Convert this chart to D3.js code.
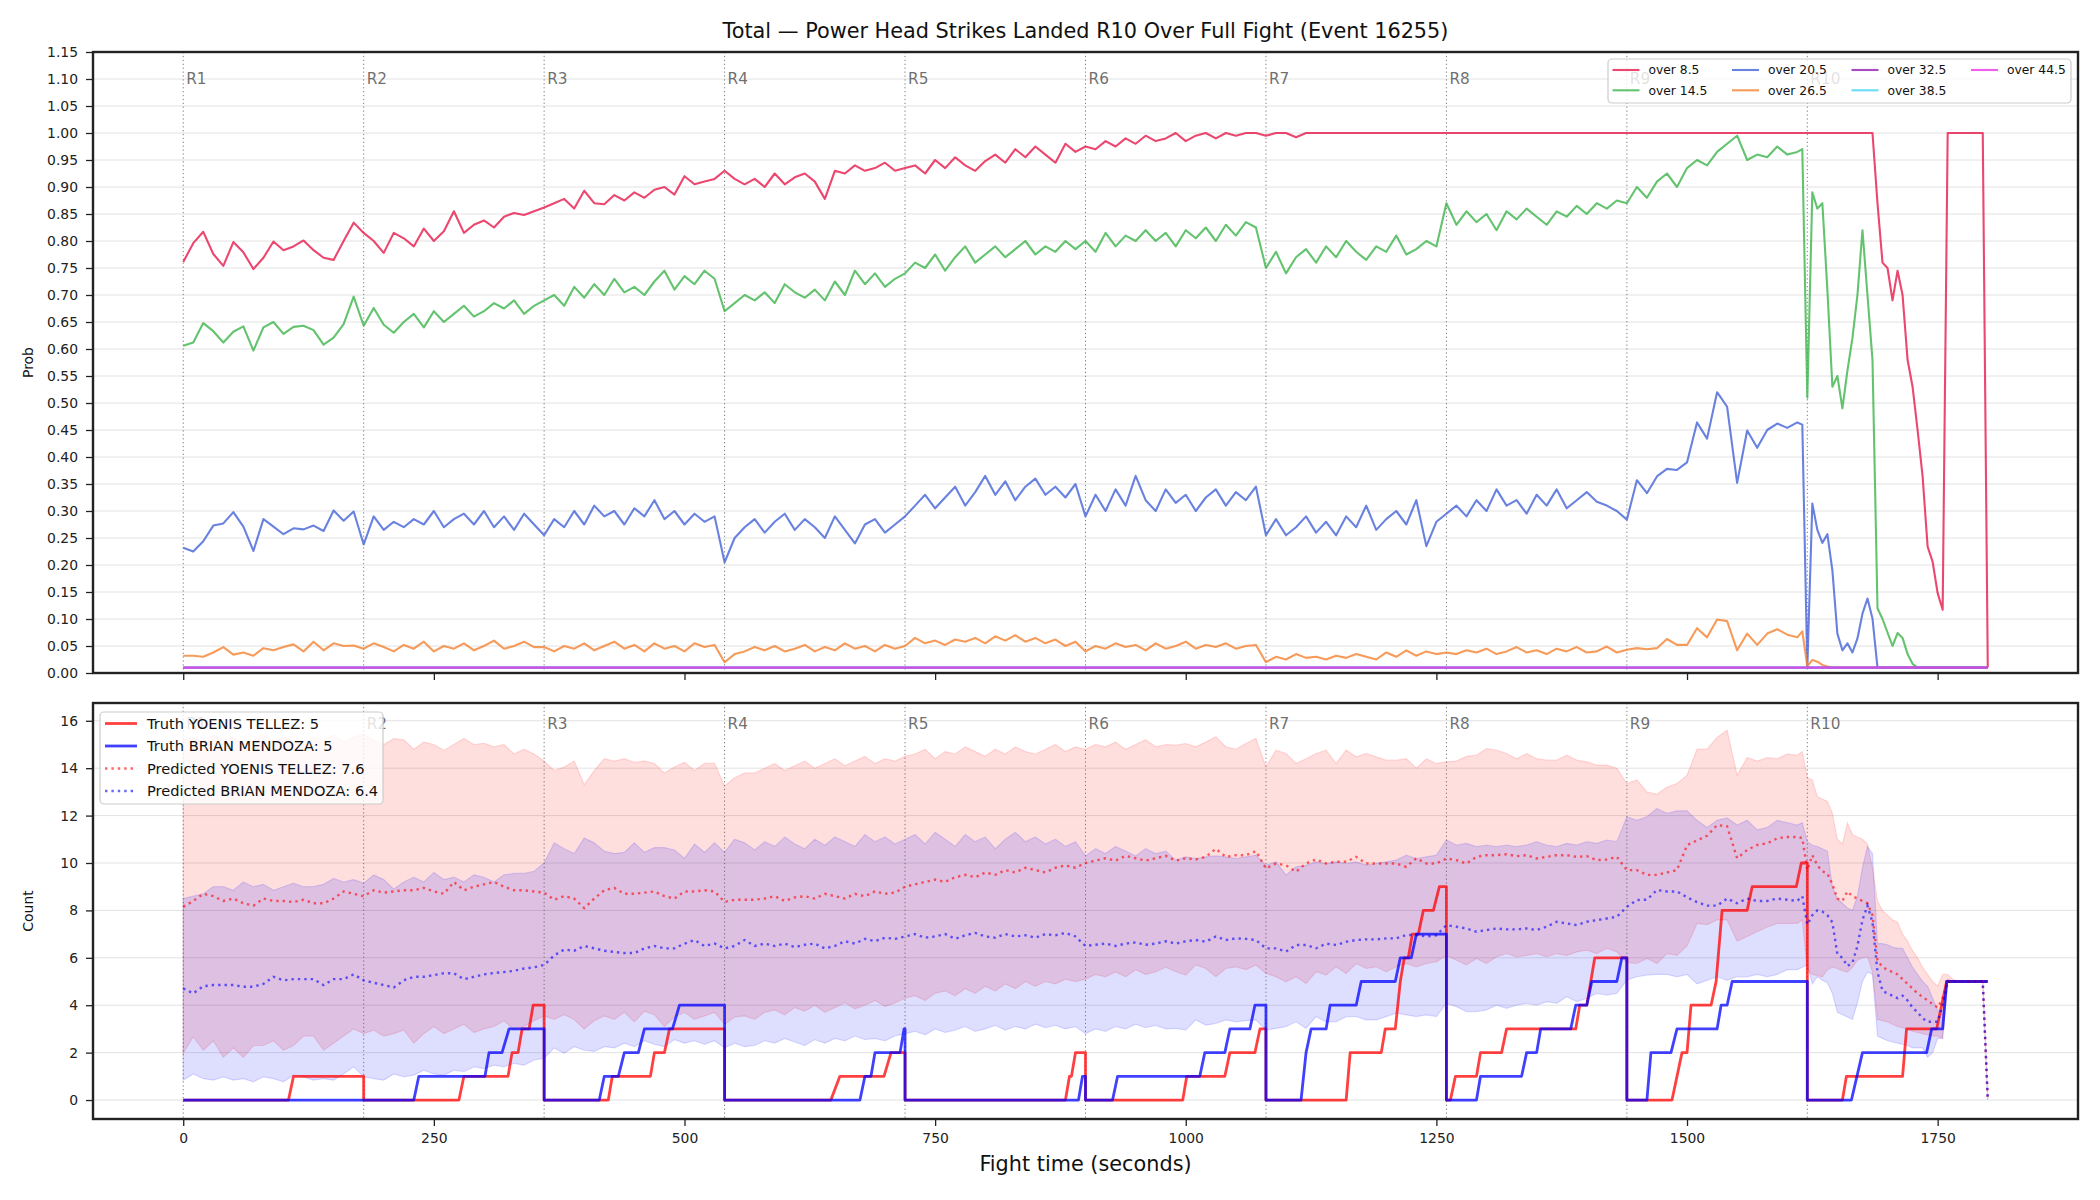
<!DOCTYPE html>
<html><head><meta charset="utf-8">
<script src="https://cdn.jsdelivr.net/npm/d3@7"></script>
<style>
body{margin:0;background:#fff;}
svg{display:block;}
text{font-family:"DejaVu Sans",sans-serif;}
</style>
</head><body>
<svg id="c" width="2100" height="1200"></svg>
<script>
// ---------------- DATA ----------------
const title = "Total \u2014 Power Head Strikes Landed R10 Over Full Fight (Event 16255)";
const roundStarts = [0,180,360,540,720,900,1080,1260,1440,1620];
const roundLabels = ["R1","R2","R3","R4","R5","R6","R7","R8","R9","R10"];
const xTicks = [0,250,500,750,1000,1250,1500,1750];
const topTicks = [0,0.05,0.1,0.15,0.2,0.25,0.3,0.35,0.4,0.45,0.5,0.55,0.6,0.65,0.7,0.75,0.8,0.85,0.9,0.95,1.0,1.05,1.1,1.15];
const botTicks = [0,2,4,6,8,10,12,14,16];

// sample times (s)
const T = [
0,10,20,30,40,50,60,70,80,90,100,110,120,130,140,150,160,170,
180,190,200,210,220,230,240,250,260,270,280,290,300,310,320,330,340,350,
360,370,380,390,400,410,420,430,440,450,460,470,480,490,500,510,520,530,
540,550,560,570,580,590,600,610,620,630,640,650,660,670,680,690,700,710,
720,730,740,750,760,770,780,790,800,810,820,830,840,850,860,870,880,890,
900,910,920,930,940,950,960,970,980,990,1000,1010,1020,1030,1040,1050,1060,1070,
1080,1090,1100,1110,1120,1130,1140,1150,1160,1170,1180,1190,1200,1210,1220,1230,1240,1250,
1260,1270,1280,1290,1300,1310,1320,1330,1340,1350,1360,1370,1380,1390,1400,1410,1420,1430,
1440,1450,1460,1470,1480,1490,1500,1510,1520,1530,1540,1550,1560,1570,1580,1590,1600,1610,1615,
1620,1625,1630,1635,1640,1645,1650,1655,1660,1665,1670,1675,1680,1685,1690,1695,1700,1705,1710,1715,
1720,1725,1730,1735,1740,1745,1750,1755,1760,1765,1770,1775,1780,1785,1790,1795,1800];

// top panel: probability of "over" lines
const over85 = [
0.761,0.796,0.817,0.776,0.754,0.798,0.779,0.748,0.769,0.799,0.783,0.790,0.801,0.783,0.769,0.765,0.800,0.834,
0.815,0.800,0.778,0.815,0.805,0.790,0.823,0.800,0.818,0.855,0.815,0.830,0.838,0.825,0.845,0.852,0.848,0.855,
0.862,0.870,0.878,0.860,0.893,0.870,0.868,0.885,0.875,0.890,0.880,0.895,0.900,0.886,0.920,0.905,0.910,0.915,
0.930,0.915,0.905,0.915,0.900,0.925,0.905,0.918,0.925,0.910,0.878,0.930,0.925,0.940,0.930,0.935,0.945,0.930,
0.935,0.940,0.925,0.950,0.935,0.955,0.940,0.930,0.948,0.960,0.945,0.970,0.955,0.975,0.960,0.945,0.980,0.965,
0.975,0.970,0.985,0.975,0.990,0.980,0.995,0.985,0.990,1.000,0.985,0.995,1.000,0.990,1.000,0.995,1.000,1.000,
0.995,1,1,0.992,1,1,1,1,1,1,1,1,1,1,1,1,1,1,
1,1,1,1,1,1,1,1,1,1,1,1,1,1,1,1,1,1,
1,1,1,1,1,1,1,1,1,1,1,1,1,1,1,1,1,1,1,
1,1,1,1,1,1,1,1,1,1,1,1,1,1,0.87,0.76,0.75,0.69,0.745,0.70,
0.58,0.53,0.45,0.364,0.234,0.206,0.148,0.117,1,1,1,1,1,1,1,1,0.01];
const over145 = [
0.606,0.612,0.648,0.633,0.612,0.632,0.642,0.597,0.640,0.650,0.628,0.641,0.643,0.635,0.608,0.621,0.646,0.697,
0.643,0.676,0.645,0.630,0.650,0.665,0.640,0.670,0.650,0.665,0.680,0.660,0.670,0.685,0.675,0.690,0.665,0.680,
0.690,0.700,0.680,0.715,0.695,0.720,0.700,0.730,0.705,0.715,0.700,0.725,0.745,0.710,0.735,0.720,0.745,0.730,
0.670,0.685,0.700,0.690,0.705,0.685,0.720,0.705,0.695,0.710,0.690,0.725,0.700,0.745,0.720,0.740,0.715,0.730,
0.740,0.760,0.750,0.775,0.745,0.770,0.790,0.760,0.775,0.790,0.770,0.785,0.800,0.775,0.790,0.780,0.800,0.785,
0.800,0.780,0.815,0.790,0.810,0.800,0.820,0.800,0.815,0.790,0.820,0.805,0.825,0.800,0.830,0.810,0.835,0.825,
0.750,0.780,0.740,0.770,0.785,0.760,0.790,0.770,0.800,0.780,0.765,0.790,0.780,0.810,0.775,0.785,0.800,0.790,
0.870,0.830,0.855,0.835,0.850,0.820,0.855,0.840,0.860,0.845,0.830,0.855,0.845,0.865,0.850,0.870,0.860,0.875,
0.870,0.900,0.880,0.910,0.925,0.900,0.935,0.950,0.940,0.965,0.980,0.995,0.950,0.960,0.955,0.975,0.960,0.965,0.970,
0.51,0.89,0.86,0.87,0.71,0.53,0.55,0.49,0.56,0.62,0.70,0.82,0.70,0.58,0.12,0.10,0.075,0.05,0.074,0.065,
0.035,0.017,0.01,0.01,0.01,0.01,0.01,0.01,0.01,0.01,0.01,0.01,0.01,0.01,0.01,0.01,0.01];
const over205 = [
0.232,0.225,0.244,0.273,0.277,0.298,0.271,0.226,0.285,0.271,0.257,0.268,0.266,0.273,0.263,0.301,0.282,0.299,
0.238,0.290,0.265,0.280,0.270,0.285,0.275,0.300,0.270,0.285,0.295,0.275,0.300,0.270,0.290,0.265,0.295,0.275,
0.255,0.285,0.270,0.300,0.275,0.310,0.290,0.300,0.275,0.305,0.290,0.320,0.285,0.300,0.275,0.295,0.280,0.290,
0.205,0.250,0.270,0.285,0.260,0.280,0.295,0.265,0.285,0.270,0.250,0.290,0.265,0.240,0.275,0.285,0.260,0.275,
0.290,0.310,0.330,0.305,0.325,0.345,0.310,0.335,0.365,0.330,0.355,0.320,0.345,0.360,0.330,0.345,0.325,0.350,
0.290,0.330,0.300,0.340,0.310,0.365,0.320,0.300,0.340,0.315,0.330,0.300,0.325,0.340,0.310,0.335,0.320,0.345,
0.255,0.285,0.255,0.270,0.290,0.260,0.280,0.255,0.290,0.270,0.310,0.265,0.285,0.300,0.275,0.320,0.235,0.280,
0.295,0.310,0.290,0.320,0.300,0.340,0.310,0.320,0.295,0.330,0.310,0.340,0.305,0.320,0.335,0.317,0.310,0.300,
0.284,0.357,0.333,0.364,0.378,0.376,0.390,0.464,0.434,0.520,0.493,0.352,0.449,0.417,0.450,0.462,0.454,0.464,0.460,
0.01,0.314,0.265,0.241,0.257,0.19,0.073,0.042,0.055,0.038,0.064,0.11,0.138,0.101,0.01,0.01,0.01,0.01,0.01,0.01,
0.01,0.01,0.01,0.01,0.01,0.01,0.01,0.01,0.01,0.01,0.01,0.01,0.01,0.01,0.01,0.01,0.01];
const over265 = [
0.032,0.032,0.030,0.038,0.048,0.034,0.038,0.032,0.046,0.042,0.048,0.053,0.040,0.058,0.042,0.055,0.050,0.051,
0.045,0.055,0.048,0.040,0.052,0.045,0.058,0.040,0.050,0.045,0.055,0.042,0.050,0.060,0.045,0.050,0.058,0.048,
0.048,0.040,0.050,0.045,0.055,0.042,0.050,0.058,0.045,0.052,0.040,0.055,0.045,0.050,0.040,0.055,0.048,0.052,
0.020,0.035,0.040,0.048,0.042,0.050,0.040,0.045,0.052,0.040,0.048,0.042,0.055,0.045,0.050,0.040,0.052,0.045,
0.050,0.065,0.055,0.060,0.052,0.062,0.058,0.065,0.055,0.068,0.060,0.070,0.058,0.065,0.055,0.062,0.050,0.058,
0.040,0.050,0.045,0.055,0.048,0.052,0.042,0.055,0.045,0.050,0.058,0.045,0.052,0.048,0.055,0.045,0.050,0.052,
0.020,0.030,0.025,0.035,0.028,0.030,0.025,0.032,0.028,0.035,0.030,0.025,0.038,0.030,0.042,0.032,0.040,0.035,
0.038,0.035,0.042,0.038,0.045,0.035,0.040,0.048,0.038,0.042,0.035,0.045,0.040,0.048,0.038,0.040,0.049,0.038,
0.043,0.046,0.044,0.046,0.063,0.052,0.052,0.083,0.066,0.099,0.096,0.042,0.073,0.052,0.073,0.081,0.071,0.066,0.077,
0.013,0.024,0.021,0.015,0.012,0.01,0.01,0.01,0.01,0.01,0.01,0.01,0.01,0.01,0.01,0.01,0.01,0.01,0.01,0.01,
0.01,0.01,0.01,0.01,0.01,0.01,0.01,0.01,0.01,0.01,0.01,0.01,0.01,0.01,0.01,0.01,0.01];
// flat lines (time, value)
const flatT = [0,1800];
const over325 = [0.01,0.01];
const over385 = [0.01,0.01];
const over445 = [0.01,0.01];

const topNames  = ["over 8.5","over 14.5","over 20.5","over 26.5","over 32.5","over 38.5","over 44.5"];
const topColors = ["#e6194b","#3cb44b","#4363d8","#f58231","#911eb4","#42d4f4","#f032e6"];

// bottom panel: predicted counts and bands
const predRed = [
8.15,8.4,8.7,8.6,8.4,8.5,8.3,8.2,8.5,8.4,8.4,8.35,8.45,8.3,8.3,8.5,8.8,8.7,
8.6,8.85,8.75,8.8,8.85,8.85,8.95,8.8,8.7,9.2,8.85,9.0,9.1,9.2,9.0,8.85,8.85,8.8,
8.75,8.45,8.6,8.5,8.1,8.5,8.85,8.95,8.7,8.7,8.75,8.8,8.6,8.5,8.8,8.8,8.85,8.8,
8.36,8.45,8.45,8.45,8.5,8.6,8.4,8.55,8.6,8.5,8.7,8.6,8.5,8.7,8.6,8.8,8.7,8.75,
9.0,9.1,9.2,9.3,9.2,9.4,9.5,9.4,9.6,9.5,9.7,9.6,9.8,9.7,9.6,9.8,9.9,9.8,
10.0,10.1,10.2,10.1,10.3,10.2,10.1,10.2,10.3,10.1,10.2,10.15,10.26,10.6,10.26,10.33,10.33,10.5,
9.77,9.98,9.9,9.63,9.98,10.15,9.98,10.05,10.05,10.26,9.98,9.98,9.98,9.98,9.84,10.2,9.98,9.98,
10.19,10.12,9.98,10.26,10.33,10.33,10.37,10.29,10.33,10.19,10.26,10.33,10.33,10.26,10.29,10.12,10.15,10.26,
9.7,9.7,9.5,9.5,9.6,9.7,10.75,10.95,11.15,11.6,11.55,10.2,10.55,10.76,10.83,11.04,11.1,11.1,11.05,
9.7,10.33,9.9,9.65,9.56,9.1,8.5,8.4,8.8,8.6,8.5,8.4,8.3,7.8,5.9,5.6,5.5,5.4,5.3,5.1,
4.9,4.7,4.5,4.35,4.2,4.05,3.9,4.3,5.0,5.0,5.0,5.0,5.0,5.0,5.0,5.0,0];
const predBlue = [
4.71,4.5,4.8,4.85,4.85,4.85,4.78,4.78,4.9,5.2,5.05,5.1,5.1,5.1,4.85,5.1,5.1,5.3,
5.05,4.95,4.85,4.75,5.05,5.2,5.2,5.27,5.35,5.35,5.1,5.2,5.3,5.36,5.4,5.45,5.55,5.6,
5.7,6.1,6.35,6.3,6.5,6.4,6.3,6.25,6.2,6.2,6.4,6.5,6.4,6.4,6.6,6.75,6.5,6.6,
6.4,6.5,6.75,6.5,6.6,6.5,6.6,6.45,6.55,6.6,6.4,6.5,6.7,6.6,6.8,6.7,6.85,6.8,
6.9,7.0,6.85,6.9,7.0,6.8,6.95,7.05,6.9,6.85,7.0,6.9,6.95,6.85,7.0,6.95,7.05,6.9,
6.5,6.55,6.6,6.5,6.6,6.65,6.55,6.6,6.7,6.6,6.7,6.75,6.68,6.9,6.75,6.82,6.8,6.75,
6.4,6.4,6.26,6.54,6.54,6.4,6.6,6.54,6.68,6.75,6.78,6.78,6.82,6.82,6.96,6.96,6.9,6.95,
7.38,7.31,7.24,7.1,7.17,7.24,7.2,7.2,7.24,7.17,7.31,7.52,7.45,7.38,7.52,7.59,7.66,7.73,
8.15,8.44,8.45,8.86,8.8,8.8,8.55,8.35,8.2,8.2,8.5,8.3,8.5,8.4,8.4,8.5,8.45,8.4,8.6,
7.4,7.8,8.0,7.95,7.8,7.5,6.15,6.0,5.65,5.8,6.5,7.6,8.2,7.5,5.4,4.6,4.5,4.4,4.3,4.4,
4.2,3.9,3.7,3.45,3.3,3.3,3.3,4.0,5.0,5,5,5,5,5,5,5,0];
const redHi = [
15.2,15.3,15.1,15.4,15.2,15.3,15.0,15.2,15.4,15.1,15.3,15.2,15.0,15.3,15.2,15.4,15.1,15.3,
15.45,15.2,15.0,15.25,15.2,14.8,15.1,15.0,14.76,15.0,15.25,15.0,15.05,14.9,15.0,14.6,14.8,14.6,
14.3,13.9,14.05,14.3,13.3,13.9,14.4,14.3,14.4,14.25,14.3,14.2,13.8,14.05,14.25,13.9,14.2,14.2,
13.25,13.6,13.8,13.8,14.0,14.2,13.9,14.1,14.3,14.0,14.2,14.4,14.1,14.3,14.5,14.2,14.4,14.3,
14.5,14.6,14.8,14.4,14.7,14.6,14.9,14.7,14.5,14.8,14.6,14.9,14.7,14.6,14.8,15.0,14.7,14.9,
14.8,15.0,14.9,15.1,14.8,15.0,15.2,14.9,15.0,14.97,15.04,14.9,15.1,15.33,14.9,14.8,15.04,15.26,
14.06,14.76,14.62,14.2,14.4,14.62,14.76,14.2,14.76,14.48,14.62,14.48,14.34,14.34,14.4,14.0,14.4,14.2,
14.27,14.3,14.5,14.55,14.83,14.76,14.62,14.4,14.62,14.4,14.34,14.34,14.55,14.34,14.27,14.13,14.13,14.0,
13.35,13.5,13.0,12.9,13.2,13.35,13.7,14.8,14.8,15.3,15.6,13.7,14.45,14.3,14.45,14.4,14.6,14.55,14.7,
13.6,13.5,12.8,12.7,12.6,12.1,11.0,10.8,11.7,11.2,11.1,11.0,10.8,9.8,8.4,8.0,7.8,7.6,7.5,7.0,
6.7,6.3,6.0,5.6,5.3,5.0,4.8,5.3,5.3,5.1,5.0,5,5,5,5,5,0];
const redLo = [
1.97,2.67,2.1,2.5,1.8,2.2,1.8,2.3,2.3,2.5,2.1,2.3,2.7,2.7,2.1,2.4,2.7,3.0,
2.8,2.95,2.7,2.8,2.95,2.4,2.8,3.1,2.8,3.0,3.2,2.85,3.0,3.1,3.35,2.95,3.1,3.35,
3.55,3.4,3.6,3.4,3.0,3.35,3.55,3.4,3.7,3.3,3.75,3.6,3.1,3.5,3.7,3.4,3.55,3.7,
3.2,3.5,3.55,3.4,3.7,3.8,3.6,3.9,3.75,4.0,3.7,3.9,4.1,3.85,4.0,4.2,3.95,4.1,
4.3,4.4,4.2,4.5,4.6,4.4,4.7,4.5,4.8,4.6,4.9,4.7,5.0,4.8,5.0,4.9,5.1,5.0,
5.1,5.3,5.2,5.4,5.2,5.5,5.3,5.4,5.6,5.41,5.27,5.7,5.55,5.2,5.55,5.62,5.5,5.7,
5.34,5.2,4.99,5.2,4.92,5.41,5.27,5.62,5.34,5.76,5.55,5.62,5.41,5.62,5.76,5.62,5.76,5.83,
6.1,5.9,5.7,5.97,5.76,6.04,6.18,6.04,6.1,6.18,6.04,6.18,6.1,6.25,6.32,6.18,6.4,6.25,
5.8,5.76,5.97,5.76,6.18,6.1,6.5,7.45,7.4,7.6,7.6,6.7,6.9,7.1,7.3,7.45,7.45,7.45,7.6,
5.5,5.3,5.25,5.2,5.5,5.6,5.55,5.45,5.4,5.6,5.9,6.0,6.05,5.4,3.4,3.35,3.3,3.2,3.1,3.05,
3.0,2.9,2.85,2.8,2.75,2.7,2.7,2.6,5.0,5,5,5,5,5,5,5,0];
const blueHi = [
8.5,8.6,8.7,9.0,9.0,8.85,9.2,9.0,9.1,8.85,9.0,9.15,9.0,9.0,9.1,9.35,9.2,9.3,
9.15,9.5,9.3,8.9,9.2,9.4,9.2,9.6,9.3,9.4,9.2,9.5,9.4,9.2,9.5,9.56,9.56,9.65,
10.0,10.85,10.6,10.4,11.05,10.85,10.5,10.4,10.45,10.85,10.45,10.65,10.65,10.55,10.2,10.8,10.45,10.85,
10.45,11.0,10.85,10.55,10.9,10.7,11.1,10.8,10.6,11.0,10.75,11.1,10.9,10.7,11.2,10.9,11.1,10.8,
11.0,11.2,10.8,11.3,11.0,10.7,11.2,10.9,11.1,10.6,11.0,11.3,10.9,11.1,10.8,11.0,10.7,10.9,
10.3,10.6,10.4,10.7,10.5,10.3,10.6,10.4,10.5,10.12,10.26,10.19,10.26,10.3,10.26,10.19,10.26,10.33,
9.9,10.05,9.49,9.84,9.9,10.05,9.98,10.05,9.98,10.05,9.9,9.98,10.05,10.12,10.33,10.19,10.26,10.33,
10.97,10.76,10.83,10.69,10.76,10.69,10.76,10.69,10.76,10.9,10.76,10.69,10.83,10.76,10.9,10.83,10.97,10.9,
11.95,11.8,11.95,12.3,12.1,12.2,12.2,11.8,11.5,11.8,11.9,11.6,11.8,11.4,11.5,11.8,11.7,11.6,11.7,
10.9,10.75,10.7,10.6,10.5,9.0,8.5,8.3,8.1,8.0,8.6,9.8,10.7,10.4,6.6,6.6,6.55,6.45,6.4,6.4,
6.0,5.6,5.3,5.0,4.8,4.3,3.8,3.6,5.1,5,5,5,5,5,5,5,0];
const blueLo = [
0.84,1.1,0.9,0.84,0.98,0.84,0.9,0.77,0.98,0.9,0.77,1.05,0.98,0.84,0.9,0.84,1.1,1.4,
0.98,0.9,0.84,1.1,0.98,1.05,1.26,1.1,1.05,1.26,1.2,1.4,1.33,1.47,1.4,1.55,1.47,1.69,
1.76,2.2,1.97,2.25,2.1,2.05,2.25,2.2,2.4,2.25,2.5,2.35,2.25,2.55,2.4,2.5,2.35,2.5,
2.2,2.4,2.25,2.3,2.5,2.4,2.6,2.45,2.3,2.55,2.4,2.6,2.5,2.7,2.55,2.6,2.5,2.7,
2.8,2.9,2.75,3.0,2.85,2.95,3.1,2.9,3.0,3.15,2.95,3.1,3.0,3.2,3.05,3.15,3.0,3.1,
2.8,3.0,2.9,3.1,3.0,3.2,3.05,3.15,3.0,3.02,2.95,3.38,3.16,3.23,3.38,3.3,3.35,3.38,
2.95,3.02,3.1,3.3,3.02,3.52,3.3,3.3,3.52,3.52,3.38,3.38,3.52,3.66,3.59,3.52,3.59,3.52,
4.08,3.94,3.73,3.73,3.8,4.0,3.87,4.0,4.08,4.0,4.15,4.08,4.36,4.15,4.29,4.5,4.43,4.5,
5.06,5.2,5.27,5.3,5.3,5.2,5.3,4.9,5.05,5.2,5.05,5.2,5.2,5.3,5.2,5.3,5.5,5.5,5.6,
5.7,4.9,5.2,5.05,4.95,4.5,3.7,3.6,3.5,3.4,4.1,5.0,5.4,5.3,2.7,2.6,2.5,2.45,2.4,2.35,
2.3,2.2,2.2,2.2,1.8,2.0,2.6,2.6,5.0,5,5,5,5,5,5,5,0];

// truth cumulative counts: [time, count] vertices
const truthRed = [
[0,0],[105,0],[110,1],[180,1],[180,0],
[275,0],[280,1],[324,1],[328,2],[334,2],[338,3],[345,3],[349,4],[360,4],[360,0],
[424,0],[428,1],[466,1],[470,2],[480,2],[485,3],[540,3],[540,0],
[646,0],[655,1],[699,1],[706,2],[720,2],[720,0],
[880,0],[884,1],[886,1],[890,2],[900,2],[900,0],
[997,0],[1001,1],[1039,1],[1044,2],[1069,2],[1074,3],[1080,3],[1080,0],
[1160,0],[1164,2],[1195,2],[1199,3],[1209,3],[1214,5],[1218,6],[1222,6],[1226,7],[1232,7],[1237,8],[1247,8],[1253,9],[1260,9],[1260,0],
[1264,0],[1269,1],[1290,1],[1294,2],[1315,2],[1320,3],[1389,3],[1393,4],[1400,4],[1404,5],[1408,6],[1440,6],[1440,0],
[1485,0],[1495,2],[1500,2],[1504,4],[1524,4],[1529,5],[1535,8],[1560,8],[1565,9],[1609,9],[1614,10],[1620,10],[1620,0],
[1655,0],[1659,1],[1715,1],[1719,3],[1749,3],[1759,5],[1800,5]];
const truthBlue = [
[0,0],[230,0],[235,1],[301,1],[305,2],[318,2],[325,3],[360,3],[360,0],
[415,0],[420,1],[434,1],[440,2],[454,2],[460,3],[488,3],[495,4],[540,4],[540,0],
[675,0],[680,1],[686,1],[690,2],[715,2],[719,3],[720,3],[720,0],
[893,0],[897,1],[900,1],[900,0],
[927,0],[932,1],[1014,1],[1019,2],[1039,2],[1044,3],[1064,3],[1069,4],[1080,4],[1080,0],
[1115,0],[1120,2],[1125,3],[1140,3],[1144,4],[1170,4],[1175,5],[1209,5],[1214,6],[1225,6],[1230,7],[1260,7],[1260,0],
[1290,0],[1294,1],[1335,1],[1340,2],[1350,2],[1354,3],[1384,3],[1389,4],[1400,4],[1405,5],[1430,5],[1435,6],[1440,6],[1440,0],
[1460,0],[1464,2],[1484,2],[1490,3],[1530,3],[1534,4],[1540,4],[1545,5],[1620,5],[1620,0],
[1664,0],[1675,2],[1739,2],[1744,3],[1755,3],[1759,5],[1800,5]];

const botLegend = ["Truth YOENIS TELLEZ: 5","Truth BRIAN MENDOZA: 5","Predicted YOENIS TELLEZ: 7.6","Predicted BRIAN MENDOZA: 6.4"];

// ---------------- DRAW ----------------
const svg = d3.select("#c");
const L = 93, R = 2078;
const topY0 = 52, topY1 = 673, botY0 = 703, botY1 = 1119;
const x = d3.scaleLinear().domain([-90,1890]).range([L,R]);
const yT = d3.scaleLinear().domain([0,1.15]).range([topY1,topY0]);
const yB = d3.scaleLinear().domain([-0.8,16.75]).range([botY1,botY0]);
const FONT = '"DejaVu Sans", sans-serif';

svg.append("rect").attr("width",2100).attr("height",1200).attr("fill","#fff");

function grid(g, ys, ticks){
  g.selectAll("line.g").data(ticks).enter().append("line")
    .attr("x1",L).attr("x2",R).attr("y1",d=>ys(d)).attr("y2",d=>ys(d))
    .attr("stroke","#e2e2e2").attr("stroke-width",1);
}
function roundLines(g, y0, y1, ys, labelY){
  g.selectAll("line.r").data(roundStarts).enter().append("line")
    .attr("x1",d=>x(d)).attr("x2",d=>x(d)).attr("y1",y0).attr("y2",y1)
    .attr("stroke","#555").attr("stroke-opacity",0.75).attr("stroke-width",1).attr("stroke-dasharray","1.3,2.6");
  g.selectAll("text.r").data(roundStarts).enter().append("text")
    .attr("x",d=>x(d)+3).attr("y",labelY).text((d,i)=>roundLabels[i])
    .attr("font-size",15.3).attr("fill","#555").attr("fill-opacity",0.85).attr("font-family",FONT);
}

// ---- top panel ----
const gT = svg.append("g");
grid(gT, yT, topTicks);
roundLines(gT, topY0, topY1, yT, 84);
const lineT = d3.line().x(d=>x(d[0])).y(d=>yT(d[1]));
const topSeries = [
  T.map((t,i)=>[t,over85[i]]),
  T.map((t,i)=>[t,over145[i]]),
  T.map((t,i)=>[t,over205[i]]),
  T.map((t,i)=>[t,over265[i]]),
  flatT.map((t,i)=>[t,over325[i]]),
  flatT.map((t,i)=>[t,over385[i]]),
  flatT.map((t,i)=>[t,over445[i]])
];
topSeries.forEach((s,i)=>{
  gT.append("path").attr("d",lineT(s)).attr("fill","none")
    .attr("stroke",topColors[i]).attr("stroke-opacity",0.8).attr("stroke-width",2.1)
    .attr("stroke-linejoin","round");
});
gT.append("g").attr("transform",`translate(${L},0)`)
  .call(d3.axisLeft(yT).tickValues(topTicks).tickFormat(d3.format(".2f")).tickSize(7).tickPadding(8));
gT.append("g").attr("transform",`translate(0,${topY1})`)
  .call(d3.axisBottom(x).tickValues(xTicks).tickFormat("").tickSize(7));
gT.append("rect").attr("x",L).attr("y",topY0).attr("width",R-L).attr("height",topY1-topY0)
  .attr("fill","none").attr("stroke","#222").attr("stroke-width",2.4);

// top legend
const lgT = gT.append("g");
lgT.append("rect").attr("x",1608).attr("y",59).attr("width",463).attr("height",44).attr("rx",4)
  .attr("fill","#fff").attr("fill-opacity",0.8).attr("stroke","#cccccc").attr("stroke-width",1.2);
topNames.forEach((n,i)=>{
  const col = Math.floor(i/2), row = i%2;
  const lx = 1612.5 + col*119.5, ly = 70 + row*20.3;
  lgT.append("line").attr("x1",lx).attr("x2",lx+27).attr("y1",ly).attr("y2",ly)
    .attr("stroke",topColors[i]).attr("stroke-opacity",0.8).attr("stroke-width",2.1);
  lgT.append("text").attr("x",lx+36).attr("y",ly+4.4).text(n).attr("font-size",12.3).attr("fill","#111").attr("font-family",FONT);
});

// ---- bottom panel ----
const gB = svg.append("g");
grid(gB, yB, botTicks);
const areaB = (lo,hi)=>d3.area().x(d=>x(d)).y0((d,i)=>yB(lo[i])).y1((d,i)=>yB(hi[i]));
gB.append("path").attr("d",areaB(redLo,redHi)(T)).attr("fill","#ff0000").attr("fill-opacity",0.13)
  .attr("stroke","#ff0000").attr("stroke-opacity",0.13).attr("stroke-width",1.2);
gB.append("path").attr("d",areaB(blueLo,blueHi)(T)).attr("fill","#0000ff").attr("fill-opacity",0.13)
  .attr("stroke","#0000ff").attr("stroke-opacity",0.13).attr("stroke-width",1.2);
roundLines(gB, botY0, botY1, yB, 729);
const lineB = d3.line().x(d=>x(d[0])).y(d=>yB(d[1]));
gB.append("path").attr("d",lineB(truthRed)).attr("fill","none").attr("stroke","#ff0000")
  .attr("stroke-opacity",0.75).attr("stroke-width",2.8).attr("stroke-linejoin","round");
gB.append("path").attr("d",lineB(truthBlue)).attr("fill","none").attr("stroke","#0000ff")
  .attr("stroke-opacity",0.75).attr("stroke-width",2.8).attr("stroke-linejoin","round");
gB.append("path").attr("d",lineB(T.map((t,i)=>[t,predRed[i]]))).attr("fill","none").attr("stroke","#ff0000")
  .attr("stroke-opacity",0.6).attr("stroke-width",2.4).attr("stroke-dasharray","2.4,4");
gB.append("path").attr("d",lineB(T.map((t,i)=>[t,predBlue[i]]))).attr("fill","none").attr("stroke","#0000ff")
  .attr("stroke-opacity",0.6).attr("stroke-width",2.4).attr("stroke-dasharray","2.4,4");
gB.append("g").attr("transform",`translate(${L},0)`)
  .call(d3.axisLeft(yB).tickValues(botTicks).tickFormat(d3.format("d")).tickSize(7).tickPadding(8));
gB.append("g").attr("transform",`translate(0,${botY1})`)
  .call(d3.axisBottom(x).tickValues(xTicks).tickFormat(d3.format("d")).tickSize(7).tickPadding(7));
gB.append("rect").attr("x",L).attr("y",botY0).attr("width",R-L).attr("height",botY1-botY0)
  .attr("fill","none").attr("stroke","#222").attr("stroke-width",2.4);

// bottom legend
const lgB = gB.append("g");
lgB.append("rect").attr("x",100).attr("y",712).attr("width",283).attr("height",92).attr("rx",4)
  .attr("fill","#fff").attr("fill-opacity",0.8).attr("stroke","#cccccc").attr("stroke-width",1.2);
const lgStyles = [
  {c:"#ff0000",o:0.75,w:2.8,d:null},{c:"#0000ff",o:0.75,w:2.8,d:null},
  {c:"#ff0000",o:0.6,w:2.4,d:"2.4,4"},{c:"#0000ff",o:0.6,w:2.4,d:"2.4,4"}];
botLegend.forEach((n,i)=>{
  const ly = 723.5 + i*22.5;
  const s = lgStyles[i];
  const ln = lgB.append("line").attr("x1",105).attr("x2",137).attr("y1",ly).attr("y2",ly)
    .attr("stroke",s.c).attr("stroke-opacity",s.o).attr("stroke-width",s.w);
  if(s.d) ln.attr("stroke-dasharray",s.d);
  lgB.append("text").attr("x",147).attr("y",ly+5.2).text(n).attr("font-size",14.6).attr("fill","#111").attr("font-family",FONT);
});

// axis styling
svg.selectAll(".domain").remove();
svg.selectAll(".tick line").attr("stroke","#222").attr("stroke-width",1.3);
svg.selectAll(".tick text").attr("font-size",13.9).attr("fill","#222").attr("font-family",FONT);

// titles
svg.append("text").attr("x",(L+R)/2).attr("y",38).attr("text-anchor","middle").text(title)
  .attr("font-size",20.8).attr("fill","#111").attr("font-family",FONT);
svg.append("text").attr("x",(L+R)/2).attr("y",1171).attr("text-anchor","middle").text("Fight time (seconds)")
  .attr("font-size",20.8).attr("fill","#111").attr("font-family",FONT);
svg.append("text").attr("transform",`translate(33,${(topY0+topY1)/2}) rotate(-90)`).attr("text-anchor","middle")
  .text("Prob").attr("font-size",13.9).attr("fill","#111").attr("font-family",FONT);
svg.append("text").attr("transform",`translate(33,${(botY0+botY1)/2}) rotate(-90)`).attr("text-anchor","middle")
  .text("Count").attr("font-size",13.9).attr("fill","#111").attr("font-family",FONT);
</script>
</body></html>
